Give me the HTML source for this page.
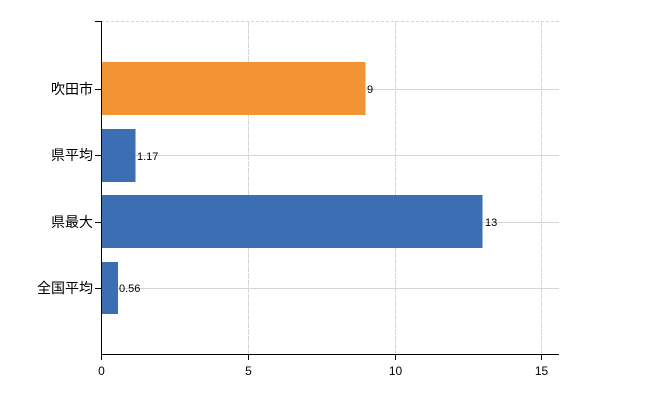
<!DOCTYPE html>
<html><head><meta charset="utf-8"><style>body{margin:0;background:#fff}</style></head><body>
<svg width="650" height="400" xmlns="http://www.w3.org/2000/svg" font-family="Liberation Sans, Noto Sans CJK JP, sans-serif">
<g stroke="#d0d8d0" stroke-width="1">
<line x1="101" y1="21.5" x2="559" y2="21.5" stroke-dasharray="3,2"/>
<line x1="101" y1="89.5" x2="559" y2="89.5"/>
<line x1="101" y1="155.5" x2="559" y2="155.5"/>
<line x1="101" y1="222.5" x2="559" y2="222.5"/>
<line x1="101" y1="288.5" x2="559" y2="288.5"/>
</g>
<g stroke="#d4d8dc" stroke-width="1" stroke-dasharray="6,1">
<line x1="248.5" y1="21" x2="248.5" y2="354"/>
<line x1="395.5" y1="21" x2="395.5" y2="354"/>
<line x1="541.5" y1="21" x2="541.5" y2="354"/>
</g>
<rect x="101.5" y="62" width="264" height="53" fill="#f39434"/>
<rect x="101.5" y="129" width="34" height="53" fill="#3b6eb2"/>
<rect x="101.5" y="195" width="381" height="53" fill="#3b6eb2"/>
<rect x="101.5" y="262" width="16.5" height="52" fill="#3b6eb2"/>
<g stroke="#000" stroke-width="1">
<line x1="101.5" y1="21" x2="101.5" y2="354"/>
<line x1="101" y1="354.5" x2="559" y2="354.5"/>
<line x1="95" y1="21.5" x2="101" y2="21.5"/>
<line x1="95" y1="89.5" x2="101" y2="89.5"/>
<line x1="95" y1="155.5" x2="101" y2="155.5"/>
<line x1="95" y1="222.5" x2="101" y2="222.5"/>
<line x1="95" y1="288.5" x2="101" y2="288.5"/>
<line x1="101.5" y1="354" x2="101.5" y2="360"/>
<line x1="248.5" y1="354" x2="248.5" y2="360"/>
<line x1="395.5" y1="354" x2="395.5" y2="360"/>
<line x1="541.5" y1="354" x2="541.5" y2="360"/>
</g>
<g font-size="14" text-anchor="end" fill="#000">
<text x="93" y="94">吹田市</text>
<text x="93" y="160">県平均</text>
<text x="93" y="227">県最大</text>
<text x="93" y="293">全国平均</text>
</g>
<g font-size="12" text-anchor="middle" fill="#000">
<text x="101.5" y="375">0</text>
<text x="248.5" y="375">5</text>
<text x="395.5" y="375">10</text>
<text x="541.5" y="375">15</text>
</g>
<g font-size="11" fill="#000">
<text x="367" y="93">9</text>
<text x="137" y="160">1.17</text>
<text x="485" y="226">13</text>
<text x="119" y="292">0.56</text>
</g>
</svg>
</body></html>
